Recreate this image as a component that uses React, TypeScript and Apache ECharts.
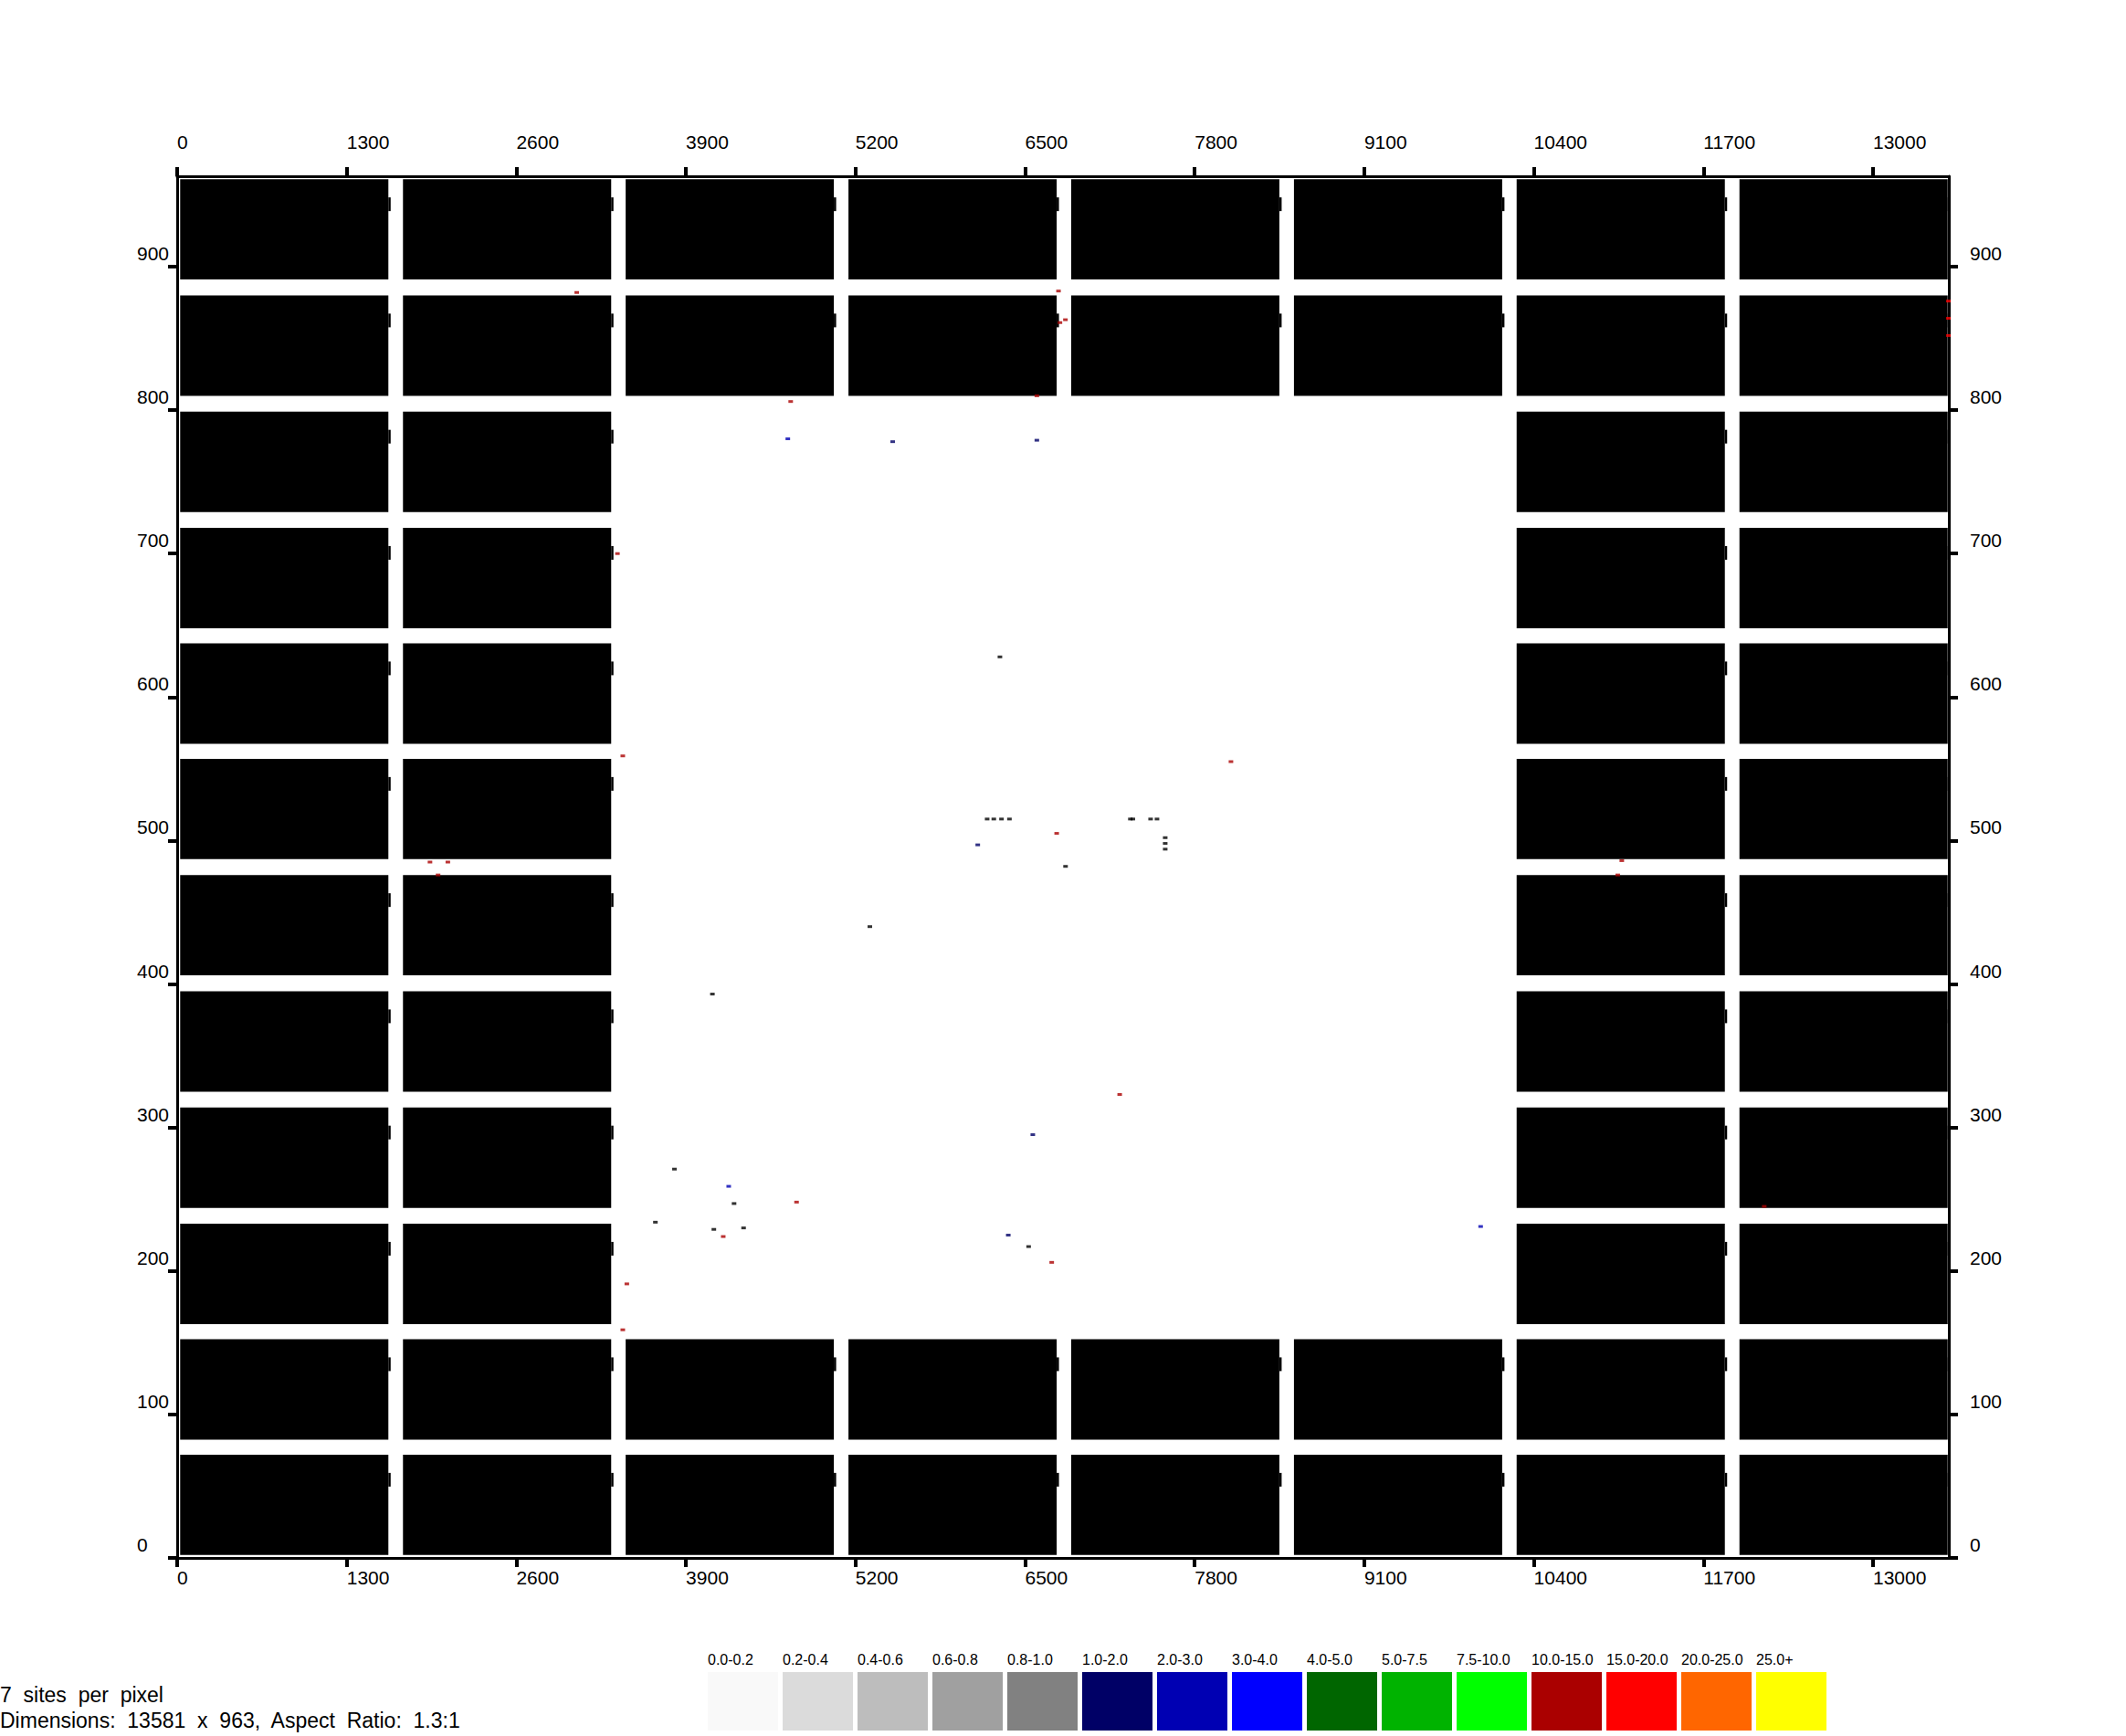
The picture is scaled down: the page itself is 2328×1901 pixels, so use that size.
import React, { useEffect, useRef } from "react";
import * as echarts from "echarts";

// ---- Data ----
const X_MAX = 13581;
const Y_MAX = 963;
const xTickValues = [0, 1300, 2600, 3900, 5200, 6500, 7800, 9100, 10400, 11700, 13000];
const yTickValues = [0, 100, 200, 300, 400, 500, 600, 700, 800, 900];

// tile grid (data units)
const colStarts = [23, 1731, 3438, 5146, 6853, 8561, 10268, 11976];
const rowStarts = [2, 82.5, 163, 244, 325, 406, 487, 567.5, 648, 729, 810, 891];
const tileWidth = 1596;
const tileHeight = 70;
// presence mask, rows listed from bottom (rowStarts order), one char per column
const tileMask = [
  "11111111",
  "11111111",
  "11000011",
  "11000011",
  "11000011",
  "11000011",
  "11000011",
  "11000011",
  "11000011",
  "11000011",
  "11111111",
  "11111111",
];

// scattered specks: x, y, colour class
const speckX = [6209, 6260, 6319, 6380, 7307, 7326, 7462, 7511, 6307, 6810, 5310, 4103, 3812, 4269, 4114, 4342, 3666, 6527, 7574, 7574, 7574,
  8078, 6742, 7225, 4748, 6704, 3447, 3416, 4703, 3375, 3416, 11074, 11043, 1938, 2075, 2000, 12166, 6756, 6809, 6767, 6590, 3063, 4186, 13578, 13578, 13578,
  6137, 6559, 4228, 6371, 9992, 5485, 4681, 6590];
const speckY = [515, 515, 515, 515, 515, 515, 515, 515, 628, 482, 440, 393, 271, 247, 229, 230, 234, 217, 494, 498, 502,
  555, 505, 323, 248, 206, 191, 159, 806, 700, 559, 486, 476, 485, 485, 476, 245, 883, 863, 861, 810, 882, 224, 852, 864, 876,
  497, 295, 259, 225, 231, 778, 780, 779];
const speckClass = ["k", "k", "k", "k", "k", "k", "k", "k", "k", "k", "k", "k", "k", "k", "k", "k", "k", "k", "k", "k", "k",
  "r", "r", "r", "r", "r", "r", "r", "r", "r", "r", "r", "r", "r", "r", "r", "r", "r", "r", "r", "r", "r", "r", "R", "R", "R",
  "n", "n", "b", "n", "b", "n", "b", "n"];

// legend
const legendLabels = ["0.0-0.2", "0.2-0.4", "0.4-0.6", "0.6-0.8", "0.8-1.0", "1.0-2.0", "2.0-3.0", "3.0-4.0", "4.0-5.0", "5.0-7.5", "7.5-10.0", "10.0-15.0", "15.0-20.0", "20.0-25.0", "25.0+"];
const legendColors = ["#F9F9F9", "#DBDBDB", "#BDBDBD", "#A0A0A0", "#818181", "#000066", "#0000B3", "#0000FF", "#006600", "#00B300", "#00FF00", "#AA0000", "#FF0000", "#FF6600", "#FFFF00"];

const infoLines = ["7  sites  per  pixel", "Dimensions:  13581  x  963,  Aspect  Ratio:  1.3:1"];

const speckColors: Record<string, string> = { k: "#000000", r: "#AA0000", R: "#FF0000", n: "#000066", b: "#0000B3" };

const AXIS_FONT = "'Liberation Sans', Arial, sans-serif";
const TEXT_FONT = "'Liberation Sans', Arial, sans-serif";

export default function App() {
  const ref = useRef<HTMLDivElement>(null);
  useEffect(() => {
    if (!ref.current) return;
    const chart = echarts.init(ref.current, null, { renderer: "svg" });

    const tiles: number[][] = [];
    tileMask.forEach((row, ri) => {
      for (let ci = 0; ci < row.length; ci++) {
        if (row[ci] === "1") {
          tiles.push([colStarts[ci], rowStarts[ri], colStarts[ci] + tileWidth, rowStarts[ri] + tileHeight]);
        }
      }
    });

    const specks = speckX.map((x, i) => [x, speckY[i], speckClass[i]]);

    const axisLineStyle = { color: "#000", width: 3 };
    const plain = (v: number) => String(v);
    const mkX = (position: "top" | "bottom", margin: number) => ({
      type: "value",
      position,
      min: 0,
      max: X_MAX,
      axisLine: { show: true, onZero: false, lineStyle: axisLineStyle },
      axisTick: { show: true, length: 10, lineStyle: { color: "#000", width: 4 }, customValues: xTickValues },
      axisLabel: {
        show: true,
        customValues: xTickValues,
        formatter: plain,
        align: "left",
        margin,
        color: "#000",
        fontSize: 21,
        fontFamily: AXIS_FONT,
      },
      splitLine: { show: false },
    });
    const mkY = (position: "left" | "right", margin: number) => ({
      type: "value",
      position,
      min: 0,
      max: Y_MAX,
      axisLine: { show: true, onZero: false, lineStyle: axisLineStyle },
      axisTick: { show: true, length: 10, lineStyle: { color: "#000", width: 4 }, customValues: yTickValues },
      axisLabel: {
        show: true,
        customValues: yTickValues,
        formatter: plain,
        align: "left",
        verticalAlign: "bottom",
        padding: [0, 0, 4, 0],
        margin,
        color: "#000",
        fontSize: 21,
        fontFamily: AXIS_FONT,
      },
      splitLine: { show: false },
    });

    const legendX0 = 775;
    const legendStep = 82;
    const graphics: any[] = [];
    legendLabels.forEach((lab, i) => {
      graphics.push({
        type: "rect",
        shape: { x: legendX0 + i * legendStep, y: 1831, width: 77, height: 64 },
        style: { fill: legendColors[i] },
      });
      graphics.push({
        type: "text",
        x: legendX0 + i * legendStep,
        y: 1817,
        style: { text: lab, fill: "#000", font: `16px ${TEXT_FONT}`, textAlign: "left", textVerticalAlign: "middle" },
      });
    });
    infoLines.forEach((t, i) => {
      graphics.push({
        type: "text",
        x: 0,
        y: 1856 + i * 28,
        style: { text: t, fill: "#000", font: `23px ${TEXT_FONT}`, textAlign: "left", textVerticalAlign: "middle" },
      });
    });

    chart.setOption({
      animation: false,
      backgroundColor: "#fff",
      grid: { left: 194, right: 194, top: 193, bottom: 195, containLabel: false },
      xAxis: [mkX("bottom", 11), mkX("top", 27)],
      yAxis: [mkY("left", 44), mkY("right", 23)],
      series: [
        {
          type: "custom",
          xAxisIndex: 0,
          yAxisIndex: 0,
          data: tiles,
          encode: { x: [0, 2], y: [1, 3] },
          renderItem: (params: any, api: any) => {
            const x0 = api.value(0), y0 = api.value(1), x1 = api.value(2), y1 = api.value(3);
            const p0 = api.coord([x0, y1]);
            const p1 = api.coord([x1, y0]);
            return {
              type: "group",
              children: [
                { type: "rect", shape: { x: p0[0], y: p0[1], width: p1[0] - p0[0], height: p1[1] - p0[1] }, style: { fill: "#000" } },
                { type: "rect", shape: { x: p1[0], y: p0[1] + 20, width: 2.5, height: 15 }, style: { fill: "#000" } },
              ],
            };
          },
        },
        {
          type: "scatter",
          xAxisIndex: 0,
          yAxisIndex: 0,
          data: specks,
          symbol: "rect",
          symbolSize: [5, 3],
          itemStyle: { color: (p: any) => speckColors[p.data[2]] || "#000" },
          z: 5,
        },
      ],
      graphic: graphics,
    });
    return () => chart.dispose();
  }, []);

  return (
    <div
      ref={ref}
      style={{ position: "fixed", left: 0, top: 0, width: 2328, height: 1901, background: "#fff" }}
    />
  );
}
